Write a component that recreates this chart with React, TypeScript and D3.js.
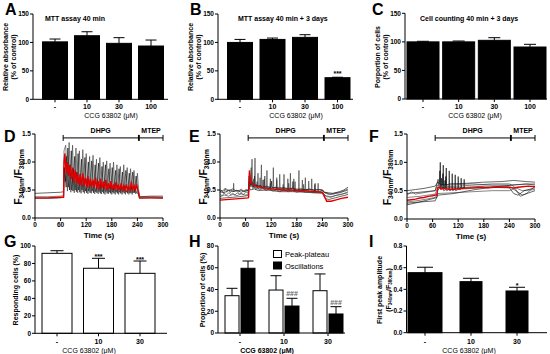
import React from "react";
import * as d3 from "d3";

const FONT = "'Liberation Sans', Arial, sans-serif";

// categories
const doses4 = ["-", "10", "30", "100"];
const doses3 = ["-", "10", "30"];

// bar data (mean, SEM)
const mttA = [101, 111.8, 98.4, 93.7];
const mttAErr = [5, 7, 10, 10.5];
const mttB = [100, 105.3, 108.9, 38];
const mttBErr = [5.3, 2.4, 4.7, 0.8];
const countC = [100, 100, 102.7, 91];
const countCErr = [1, 1.5, 4.6, 4.7];
const responding = [91.6, 74.5, 68.7];
const respondingErr = [3, 11.4, 14.1];
const peakPlateau = [34.3, 39.5, 38.9];
const peakPlateauErr = [6.8, 13.2, 15.4];
const oscillations = [59.5, 24.8, 17.5];
const oscillationsErr = [6.7, 7.1, 6.7];
const firstPeak = [0.554, 0.471, 0.385];
const firstPeakErr = [0.05, 0.031, 0.034];

const timeTicks = [0, 60, 120, 180, 240, 300];
const ratioTicks = [0, 0.5, 1.0, 1.5];

type Pt = [number, number];

// calcium traces, [time s, F340/F380]
const dRed: Pt[] = [[0,0.36],[30,0.36],[60,0.37],[67,0.37],[68,1.0],[70,1.15],[73,0.8],[76,1.0],[79,0.75],[82,0.95],[85,0.7],[88,0.9],[91,0.65],[94,0.85],[97,0.62],[100,0.8],[103,0.6],[106,0.78],[109,0.58],[112,0.8],[115,0.57],[118,0.72],[121,0.55],[124,0.75],[127,0.56],[130,0.7],[133,0.55],[136,0.68],[139,0.54],[142,0.72],[145,0.53],[148,0.66],[151,0.52],[154,0.7],[157,0.53],[160,0.65],[163,0.52],[166,0.68],[169,0.51],[172,0.62],[175,0.52],[178,0.66],[181,0.5],[184,0.6],[187,0.51],[190,0.64],[193,0.5],[196,0.58],[199,0.5],[202,0.62],[205,0.49],[208,0.57],[211,0.5],[214,0.6],[217,0.49],[220,0.56],[223,0.5],[226,0.65],[229,0.49],[232,0.58],[235,0.5],[238,0.6],[241,0.5],[243,0.45],[245,0.36],[270,0.36],[300,0.36]];
const dK1: Pt[] = [[0,0.38],[30,0.38],[60,0.39],[67,0.4],[68,1.2],[72,1.3],[76,0.48],[80,1.35],[84,0.46],[88,1.3],[92,0.45],[96,1.25],[100,0.45],[104,1.2],[108,0.44],[112,1.22],[116,0.44],[120,1.15],[124,0.43],[128,1.1],[132,0.44],[136,1.12],[140,0.43],[144,1.05],[148,0.43],[152,1.08],[156,0.43],[160,1.0],[164,0.42],[168,1.02],[172,0.43],[176,0.98],[180,0.42],[184,1.0],[188,0.42],[192,0.95],[196,0.42],[200,0.92],[204,0.42],[208,0.95],[212,0.42],[216,0.9],[220,0.42],[224,0.88],[228,0.42],[232,0.85],[236,0.43],[240,0.8],[243,0.5],[245,0.38],[270,0.38],[300,0.37]];
const dK2: Pt[] = [[0,0.35],[30,0.35],[60,0.36],[67,0.37],[69,0.9],[73,0.55],[77,1.25],[81,0.5],[85,1.2],[89,0.48],[93,1.1],[97,0.47],[101,1.15],[105,0.46],[109,1.05],[113,0.46],[117,1.08],[121,0.45],[125,1.0],[129,0.45],[133,1.02],[137,0.45],[141,0.95],[145,0.45],[149,0.98],[153,0.44],[157,0.92],[161,0.44],[165,0.95],[169,0.44],[173,0.88],[177,0.44],[181,0.9],[185,0.44],[189,0.85],[193,0.44],[197,0.88],[201,0.44],[205,0.82],[209,0.44],[213,0.85],[217,0.44],[221,0.8],[225,0.44],[229,0.82],[233,0.45],[237,0.75],[241,0.46],[243,0.4],[245,0.35],[270,0.36],[300,0.35]];
const dK3: Pt[] = [[0,0.44],[30,0.45],[60,0.46],[67,0.47],[68,0.9],[71,0.65],[74,1.1],[78,0.55],[82,0.95],[86,0.5],[90,0.88],[94,0.5],[98,0.82],[102,0.5],[106,0.78],[110,0.5],[114,0.72],[118,0.48],[122,0.7],[126,0.48],[130,0.68],[134,0.48],[138,0.65],[142,0.47],[146,0.62],[150,0.47],[154,0.6],[158,0.47],[162,0.6],[166,0.47],[170,0.58],[174,0.46],[178,0.6],[182,0.46],[186,0.56],[190,0.46],[194,0.58],[198,0.46],[202,0.55],[206,0.46],[210,0.57],[214,0.46],[218,0.55],[222,0.45],[226,0.56],[230,0.45],[234,0.54],[238,0.45],[242,0.44],[245,0.38],[270,0.39],[300,0.39]];

const eRed: Pt[] = [[0,0.32],[66,0.36],[67,0.37],[69,0.85],[71,0.72],[74,0.62],[78,0.6],[84,0.57],[90,0.56],[100,0.54],[110,0.53],[120,0.52],[135,0.51],[150,0.5],[165,0.5],[180,0.49],[195,0.49],[210,0.48],[225,0.47],[240,0.46],[243,0.42],[250,0.3],[260,0.3],[270,0.32],[285,0.35],[300,0.37]];
const eK1: Pt[] = [[0,0.45],[4,0.5],[8,0.44],[12,0.52],[16,0.46],[20,0.5],[24,0.45],[28,0.5],[31,0.47],[32,0.62],[33,0.47],[38,0.5],[44,0.46],[50,0.52],[56,0.47],[62,0.51],[67,0.5],[68,0.75],[70,0.6],[74,0.62],[75,1.05],[76,0.58],[81,0.6],[82,1.07],[83,0.55],[88,0.58],[89,0.8],[90,0.55],[96,0.56],[97,0.95],[98,0.54],[104,0.55],[105,0.75],[106,0.53],[109,0.54],[110,0.85],[111,0.52],[117,0.53],[118,0.7],[119,0.52],[124,0.52],[125,0.9],[126,0.51],[132,0.52],[133,0.72],[134,0.51],[139,0.51],[140,0.78],[141,0.5],[149,0.5],[150,0.78],[151,0.5],[158,0.5],[159,0.7],[160,0.5],[164,0.5],[165,0.8],[166,0.5],[172,0.5],[173,0.7],[174,0.49],[184,0.49],[185,0.85],[186,0.48],[192,0.48],[193,0.68],[194,0.48],[199,0.48],[200,0.72],[201,0.48],[207,0.48],[208,0.66],[209,0.47],[214,0.47],[215,0.7],[216,0.47],[222,0.47],[223,0.62],[224,0.46],[229,0.46],[230,0.62],[231,0.46],[240,0.5],[245,0.45],[255,0.42],[270,0.45],[285,0.47],[300,0.52]];
const eK2: Pt[] = [[0,0.42],[5,0.4],[10,0.44],[15,0.41],[20,0.45],[25,0.42],[30,0.44],[35,0.41],[40,0.45],[45,0.43],[50,0.44],[55,0.42],[60,0.46],[67,0.46],[68,0.65],[70,0.58],[72,0.62],[73,0.9],[74,0.56],[78,0.57],[79,0.7],[80,0.54],[86,0.54],[87,0.65],[88,0.52],[93,0.53],[94,0.72],[95,0.52],[103,0.52],[104,0.7],[105,0.5],[117,0.51],[118,0.62],[119,0.5],[132,0.5],[133,0.68],[134,0.5],[147,0.5],[148,0.6],[149,0.49],[160,0.49],[161,0.62],[162,0.49],[175,0.48],[176,0.65],[177,0.48],[195,0.47],[196,0.6],[197,0.47],[221,0.46],[222,0.6],[223,0.46],[241,0.46],[246,0.4],[260,0.38],[280,0.42],[300,0.45]];
const eK3: Pt[] = [[0,0.38],[10,0.41],[20,0.39],[30,0.42],[40,0.4],[50,0.43],[60,0.41],[66,0.43],[68,0.6],[71,0.55],[75,0.62],[77,0.52],[80,0.58],[84,0.5],[88,0.56],[92,0.5],[100,0.53],[108,0.49],[116,0.52],[124,0.48],[132,0.5],[140,0.47],[150,0.5],[160,0.47],[170,0.49],[180,0.46],[190,0.48],[200,0.46],[210,0.47],[220,0.45],[230,0.47],[240,0.45],[244,0.42],[250,0.38],[260,0.37],[270,0.4],[285,0.42],[300,0.47]];
const eK4: Pt[] = [[0,0.5],[6,0.48],[12,0.53],[20,0.49],[30,0.52],[38,0.48],[48,0.5],[58,0.47],[67,0.5],[69,0.72],[71,0.58],[76,0.65],[78,0.56],[85,0.6],[88,0.55],[95,0.58],[100,0.54],[110,0.57],[120,0.53],[130,0.55],[140,0.52],[150,0.54],[160,0.51],[170,0.53],[180,0.5],[190,0.52],[200,0.5],[210,0.52],[220,0.49],[230,0.51],[240,0.5],[245,0.46],[255,0.45],[265,0.44],[280,0.47],[290,0.5],[300,0.55]];
const eK5: Pt[] = [[0,0.35],[15,0.36],[30,0.37],[45,0.38],[66,0.4],[68,0.55],[72,0.5],[80,0.52],[90,0.49],[110,0.5],[140,0.47],[170,0.47],[200,0.46],[240,0.44],[246,0.35],[255,0.33],[270,0.36],[300,0.42]];
const eK6: Pt[] = [[0,0.47],[10,0.45],[20,0.5],[30,0.47],[40,0.49],[50,0.46],[60,0.5],[67,0.48],[69,0.8],[71,0.62],[80,0.6],[81,0.75],[82,0.58],[90,0.58],[100,0.56],[101,0.68],[102,0.55],[120,0.55],[121,0.66],[122,0.54],[140,0.54],[160,0.53],[170,0.53],[171,0.65],[172,0.52],[200,0.51],[240,0.5],[244,0.46],[260,0.42],[280,0.45],[300,0.5]];

const fRed: Pt[] = [[0,0.33],[10,0.34],[20,0.35],[30,0.37],[40,0.38],[50,0.4],[60,0.41],[70,0.43],[72,0.55],[76,0.56],[80,0.53],[90,0.54],[100,0.52],[115,0.53],[130,0.54],[145,0.55],[160,0.55],[175,0.56],[190,0.55],[205,0.56],[220,0.56],[235,0.56],[250,0.55],[260,0.56],[270,0.57],[285,0.58],[300,0.57]];
const fK1: Pt[] = [[0,0.25],[30,0.3],[66,0.37],[70,0.38],[72,0.5],[77,0.56],[78,1.0],[79,0.52],[84,0.54],[85,0.95],[86,0.5],[91,0.52],[92,0.9],[93,0.5],[98,0.52],[99,0.85],[100,0.5],[105,0.52],[106,0.8],[107,0.5],[112,0.52],[113,0.78],[114,0.5],[119,0.52],[120,0.75],[121,0.52],[126,0.52],[127,0.72],[128,0.53],[133,0.53],[134,0.7],[135,0.53],[160,0.55],[200,0.56],[240,0.55],[250,0.45],[260,0.42],[275,0.5],[300,0.55]];
const fK2: Pt[] = [[0,0.5],[20,0.52],[40,0.54],[66,0.58],[72,0.65],[76,0.62],[77,0.85],[78,0.6],[83,0.6],[84,0.8],[85,0.6],[90,0.6],[91,0.75],[92,0.6],[100,0.62],[140,0.63],[180,0.65],[220,0.66],[250,0.68],[280,0.66],[300,0.65]];
const fK3: Pt[] = [[0,0.3],[30,0.33],[66,0.38],[72,0.45],[100,0.46],[150,0.48],[200,0.5],[240,0.5],[255,0.55],[270,0.5],[300,0.52]];
const fK4: Pt[] = [[0,0.38],[30,0.4],[66,0.44],[72,0.55],[90,0.57],[120,0.58],[160,0.6],[200,0.62],[240,0.62],[250,0.58],[265,0.4],[280,0.45],[300,0.58]];
const fK5: Pt[] = [[0,0.42],[10,0.48],[20,0.44],[66,0.5],[72,0.6],[100,0.6],[150,0.62],[200,0.6],[240,0.6],[300,0.62]];
const fK6: Pt[] = [[0,0.28],[30,0.3],[66,0.32],[72,0.42],[110,0.45],[160,0.52],[210,0.57],[250,0.6],[280,0.62],[300,0.6]];
const fK7: Pt[] = [[0,0.45],[40,0.48],[66,0.5],[73,0.7],[75,0.55],[80,0.56],[81,0.72],[82,0.55],[88,0.55],[89,0.68],[90,0.55],[120,0.55],[180,0.58],[240,0.58],[255,0.5],[270,0.42],[300,0.5]];

interface Series {
  values: number[];
  errs: number[];
  fill: string;
  dx: number;
  widths: number[];
  cap: number;
  marks?: string[];
  markFill?: string;
  markGap?: number;
}

interface BarPanelProps {
  letter: string; lx: number; ly: number;
  left: number; right: number; top: number; bottom: number;
  yMax: number; yTicks: number[]; fmt: (v: number) => string;
  cats: string[]; c0: number; c1: number;
  series: Series[];
  tickY: number; labelX: number; labelY: number; xBold?: boolean;
  title?: string; titleX?: number; titleY?: number;
  children?: React.ReactNode;
}

function BarPanel(p: BarPanelProps) {
  const y = d3.scaleLinear().domain([0, p.yMax]).range([p.bottom, p.top]);
  const x = d3.scalePoint<string>().domain(p.cats).range([p.c0, p.c1]);
  return (
    <g fontFamily={FONT}>
      <text x={p.lx} y={p.ly} fontSize={16} fontWeight="bold">{p.letter}</text>
      {p.title && (
        <text x={p.titleX} y={p.titleY} fontSize={7} fontWeight="bold">{p.title}</text>
      )}
      {p.series.map((s, si) =>
        s.values.map((v, i) => {
          const cx = (x(p.cats[i]) as number) + s.dx;
          const w = s.widths[i];
          const yt = y(v);
          const ye = y(v + s.errs[i]);
          return (
            <g key={`${si}-${i}`}>
              <line x1={cx} x2={cx} y1={yt} y2={ye} stroke="#000" strokeWidth={1} />
              <line x1={cx - s.cap / 2} x2={cx + s.cap / 2} y1={ye} y2={ye} stroke="#000" strokeWidth={1} />
              <rect x={cx - w / 2} y={yt} width={w} height={p.bottom - yt} fill={s.fill} stroke="#000" strokeWidth={1} />
              {s.marks && s.marks[i] && (
                <text x={cx} y={ye - (s.markGap ?? 1)} fontSize={7} fontWeight="bold" textAnchor="middle" fill={s.markFill ?? "#000"}>{s.marks[i]}</text>
              )}
            </g>
          );
        })
      )}
      {/* y axis */}
      <line x1={p.left} x2={p.left} y1={p.top} y2={p.bottom} stroke="#000" strokeWidth={1} />
      {p.yTicks.map((t) => (
        <g key={t}>
          <line x1={p.left - 3} x2={p.left} y1={y(t)} y2={y(t)} stroke="#000" strokeWidth={1} />
          <text x={p.left - 4} y={y(t)} dy="0.35em" fontSize={6.5} fontWeight="bold" textAnchor="end">{p.fmt(t)}</text>
        </g>
      ))}
      {/* x axis */}
      <line x1={p.left} x2={p.right} y1={p.bottom} y2={p.bottom} stroke="#000" strokeWidth={1} />
      {p.cats.map((c) => (
        <g key={c}>
          <line x1={x(c)} x2={x(c)} y1={p.bottom} y2={p.bottom + 3} stroke="#000" strokeWidth={1} />
          <text x={x(c)} y={p.tickY} fontSize={7} fontWeight="bold" textAnchor="middle">{c}</text>
        </g>
      ))}
      <text x={p.labelX} y={p.labelY} fontSize={7} fontWeight={p.xBold ? "bold" : "normal"} textAnchor="middle">CCG 63802 (μM)</text>
      {p.children}
    </g>
  );
}

function RotLabel({ x, y, size = 7, children }: { x: number; y: number; size?: number; children: React.ReactNode }) {
  return (
    <text transform={`translate(${x},${y}) rotate(-90)`} fontSize={size} fontWeight="bold" textAnchor="middle" dominantBaseline="central" fontFamily={FONT}>
      {children}
    </text>
  );
}

function RatioLabel({ x, y, size = 10.5 }: { x: number; y: number; size?: number }) {
  const sub = size * 0.6;
  return (
    <RotLabel x={x} y={y} size={size}>
      F<tspan fontSize={sub} dy={size * 0.3}>340nm</tspan>
      <tspan dy={-size * 0.3}>/F</tspan>
      <tspan fontSize={sub} dy={size * 0.3}>380nm</tspan>
    </RotLabel>
  );
}

interface TraceProps {
  letter: string; lx: number; ly: number;
  left: number; right: number; top: number; bottom: number;
  blacks: Pt[][]; red: Pt[];
  labelX: number;
}

function TracePanel(p: TraceProps) {
  const x = d3.scaleLinear().domain([0, 300]).range([p.left, p.right]);
  const y = d3.scaleLinear().domain([0, 1.5]).range([p.bottom, p.top]);
  const ln = d3.line<Pt>().x((d) => x(d[0])).y((d) => y(d[1]));
  const by = y(1.43);
  const seg = (a: number, b: number) => (
    <g>
      <line x1={x(a)} x2={x(b)} y1={by} y2={by} stroke="#000" strokeWidth={1} />
      <line x1={x(a)} x2={x(a)} y1={by - 3} y2={by + 3} stroke="#000" strokeWidth={1} />
      <line x1={x(b)} x2={x(b)} y1={by - 3} y2={by + 3} stroke="#000" strokeWidth={1} />
    </g>
  );
  return (
    <g fontFamily={FONT}>
      <text x={p.lx} y={p.ly} fontSize={16} fontWeight="bold">{p.letter}</text>
      {p.blacks.map((tr, i) => (
        <path key={i} d={ln(tr) ?? ""} fill="none" stroke={i % 2 ? "#333" : "#000"} strokeWidth={0.6} />
      ))}
      <path d={ln(p.red) ?? ""} fill="none" stroke="#e00000" strokeWidth={1.4} />
      {seg(66, 242.5)}
      {seg(244.5, 300)}
      <text x={x(154)} y={by - 4.5} fontSize={7} fontWeight="bold" textAnchor="middle">DHPG</text>
      <text x={x(272)} y={by - 4.5} fontSize={7} fontWeight="bold" textAnchor="middle">MTEP</text>
      <line x1={p.left} x2={p.left} y1={p.top} y2={p.bottom} stroke="#000" strokeWidth={1} />
      {ratioTicks.map((t) => (
        <g key={t}>
          <line x1={p.left - 3} x2={p.left} y1={y(t)} y2={y(t)} stroke="#000" strokeWidth={1} />
          <text x={p.left - 4} y={y(t)} dy="0.35em" fontSize={6.5} fontWeight="bold" textAnchor="end">{t.toFixed(1)}</text>
        </g>
      ))}
      <line x1={p.left} x2={p.right} y1={p.bottom} y2={p.bottom} stroke="#000" strokeWidth={1} />
      {timeTicks.map((t) => (
        <g key={t}>
          <line x1={x(t)} x2={x(t)} y1={p.bottom} y2={p.bottom + 3} stroke="#000" strokeWidth={1} />
          <text x={x(t)} y={p.bottom + 9} fontSize={6.5} fontWeight="bold" textAnchor="middle">{t}</text>
        </g>
      ))}
      <text x={(p.left + p.right) / 2} y={p.bottom + 20} fontSize={8} fontWeight="bold" textAnchor="middle">Time (s)</text>
      <RatioLabel x={p.labelX} y={(p.top + p.bottom) / 2 + 1} />
    </g>
  );
}

const pct = (v: number) => String(v);

export default function App() {
  return (
    <svg width={550} height={354} style={{ position: "absolute", left: 0, top: 0, background: "#fff" }}>
      {/* A */}
      <BarPanel letter="A" lx={5} ly={15} left={33} right={168} top={14} bottom={99.3}
        yMax={150} yTicks={[0, 50, 100, 150]} fmt={pct} cats={doses4} c0={55} c1={151}
        series={[{ values: mttA, errs: mttAErr, fill: "#000", dx: 0, widths: [25, 25, 25, 25], cap: 11 }]}
        tickY={109} labelX={111} labelY={117.5} title="MTT assay 40 min" titleX={45} titleY={20.5}>
        <RotLabel x={5.5} y={57}>Relative absorbance</RotLabel>
        <RotLabel x={13.5} y={57}>(% of control)</RotLabel>
      </BarPanel>
      {/* B */}
      <BarPanel letter="B" lx={190} ly={15} left={218} right={353} top={14} bottom={99.3}
        yMax={150} yTicks={[0, 50, 100, 150]} fmt={pct} cats={doses4} c0={240} c1={337.5}
        series={[{ values: mttB, errs: mttBErr, fill: "#000", dx: 0, widths: [25, 25, 25, 25], cap: 11, marks: ["", "", "", "***"], markGap: 1 }]}
        tickY={109} labelX={296} labelY={117.5} title="MTT assay 40 min + 3 days" titleX={238} titleY={20.5}>
        <RotLabel x={190.5} y={57}>Relative absorbance</RotLabel>
        <RotLabel x={198.5} y={57}>(% of control)</RotLabel>
      </BarPanel>
      {/* C */}
      <BarPanel letter="C" lx={372} ly={15} left={405} right={547} top={13.3} bottom={99}
        yMax={150} yTicks={[0, 50, 100, 150]} fmt={pct} cats={doses4} c0={423} c1={530}
        series={[{ values: countC, errs: countCErr, fill: "#000", dx: 0, widths: [32, 32, 32, 32], cap: 12 }]}
        tickY={109} labelX={475} labelY={117.5} title="Cell counting 40 min + 3 days" titleX={420} titleY={20.5}>
        <RotLabel x={377} y={57}>Porportion of cells</RotLabel>
        <RotLabel x={385.5} y={57}>(% of control)</RotLabel>
      </BarPanel>

      {/* D E F */}
      <TracePanel letter="D" lx={4} ly={142} left={35} right={163} top={134} bottom={218}
        blacks={[dK3, dK1, dK2]} red={dRed} labelX={18} />
      <TracePanel letter="E" lx={189} ly={142} left={220} right={348} top={134} bottom={218}
        blacks={[eK5, eK3, eK6, eK2, eK4, eK1]} red={eRed} labelX={203} />
      <TracePanel letter="F" lx={369} ly={142} left={407} right={535} top={134} bottom={219}
        blacks={[fK6, fK3, fK1, fK4, fK7, fK5, fK2]} red={fRed} labelX={387} />

      {/* G */}
      <BarPanel letter="G" lx={4} ly={247} left={35} right={167} top={246} bottom={333.3}
        yMax={100} yTicks={[0, 20, 40, 60, 80, 100]} fmt={pct} cats={doses3} c0={57} c1={140}
        series={[{ values: responding, errs: respondingErr, fill: "#fff", dx: 0, widths: [30, 30, 30], cap: 13, marks: ["", "***", "***"], markGap: -1 }]}
        tickY={343.5} labelX={89} labelY={352.5}>
        <RotLabel x={15.5} y={290}>Responding cells (%)</RotLabel>
      </BarPanel>
      {/* H */}
      <BarPanel letter="H" lx={189} ly={247} left={218} right={345} top={246} bottom={333}
        yMax={80} yTicks={[0, 20, 40, 60, 80]} fmt={pct} cats={doses3} c0={240} c1={328}
        series={[
          { values: peakPlateau, errs: peakPlateauErr, fill: "#fff", dx: -8, widths: [14, 14, 14], cap: 11 },
          { values: oscillations, errs: oscillationsErr, fill: "#000", dx: 8, widths: [14, 14, 14], cap: 11, marks: ["", "###", "###"], markFill: "#666", markGap: 2 },
        ]}
        tickY={343.5} labelX={267} labelY={352.5} xBold>
        <RotLabel x={202.5} y={290}>Proportion of cells (%)</RotLabel>
        <rect x={273.5} y={250.5} width={8} height={7} fill="#fff" stroke="#000" strokeWidth={1} />
        <rect x={273.5} y={262} width={8} height={7} fill="#000" stroke="#000" strokeWidth={1} />
        <text x={285} y={257} fontSize={7.5}>Peak-plateau</text>
        <text x={285} y={268.5} fontSize={7.5}>Oscillations</text>
      </BarPanel>
      {/* I */}
      <BarPanel letter="I" lx={369} ly={247} left={406.5} right={547} top={246} bottom={332.7}
        yMax={0.8} yTicks={[0, 0.2, 0.4, 0.6, 0.8]} fmt={(v) => v.toFixed(1)} cats={doses3} c0={425} c1={517}
        series={[{ values: firstPeak, errs: firstPeakErr, fill: "#000", dx: 0, widths: [34, 22, 22], cap: 16, marks: ["", "", "*"], markGap: -1 }]}
        tickY={343.5} labelX={469} labelY={352.5}>
        <RotLabel x={379} y={290}>First peak amplitude</RotLabel>
        <RotLabel x={388} y={290}>
          (F<tspan fontSize={4.5} dy={2}>340nm</tspan><tspan dy={-2}>/F</tspan><tspan fontSize={4.5} dy={2}>380nm</tspan><tspan dy={-2}>)</tspan>
        </RotLabel>
      </BarPanel>
    </svg>
  );
}
